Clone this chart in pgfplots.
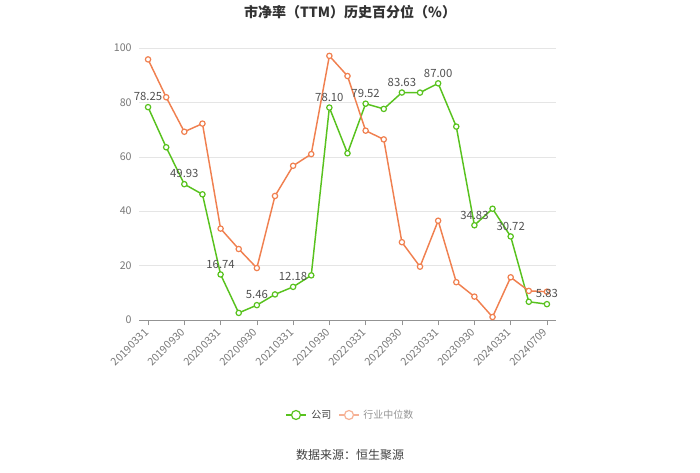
\documentclass[border=0pt]{standalone}
\usepackage{fontspec}
\setmainfont{Noto Sans CJK SC}
\usepackage{pgfplots}
\pgfplotsset{compat=1.18}
\definecolor{gs}{RGB}{88,194,30}
\definecolor{os}{RGB}{240,128,80}
\definecolor{osl}{RGB}{246,178,150}
\definecolor{tk}{RGB}{120,120,120}
\definecolor{lab}{RGB}{80,80,80}
\begin{document}
\begin{tikzpicture}[x=0.75pt,y=0.75pt]
\path (0,0) rectangle (700,473);
\begin{axis}[
  at={(139pt*0.75,153pt*0.75)}, anchor=south west,
  scale only axis, width=312.75pt, height=204pt,
  xmin=-0.5, xmax=22.5, ymin=0, ymax=100,
  ytick={0,20,40,60,80,100},
  xtick={0,2,...,22},
  xticklabels={20190331,20190930,20200331,20200930,20210331,20210930,20220331,20220930,20230331,20230930,20240331,20240709},
  axis y line*=left, axis x line*=bottom,
  axis line style={draw=tk!80, thin, -},
  y axis line style={draw=none},
  ymajorgrids, grid style={draw=black!10, thin},
  xtick style={draw=tk!80, thin}, ytick style={draw=none},
  major tick length=4pt, xtick align=outside,
  tick label style={font=\fontsize{8}{9}\selectfont, color=tk},
  xticklabel style={rotate=45, anchor=east, yshift=-2pt},
  yticklabel style={xshift=-2pt},
  /pgf/number format/assume math mode=true,
  clip=false,
]
\addplot[gs, line width=1.1pt, mark=*, mark size=2pt, mark options={fill=white, line width=0.9pt}] coordinates {
(0,78.25)(1,63.5)(2,49.93)(3,46.2)(4,16.74)(5,2.6)(6,5.46)(7,9.4)(8,12.18)(9,16.4)(10,78.10)(11,61.3)
(12,79.52)(13,77.6)(14,83.63)(15,83.6)(16,87.00)(17,71.1)(18,34.83)(19,40.9)(20,30.72)(21,6.7)(22,5.83)
};
\addplot[os, line width=1.1pt, mark=*, mark size=2pt, mark options={fill=white, line width=0.9pt}] coordinates {
(0,95.8)(1,81.9)(2,69.2)(3,72.2)(4,33.6)(5,26.1)(6,19.1)(7,45.6)(8,56.7)(9,61.0)(10,97.1)(11,89.7)
(12,69.6)(13,66.4)(14,28.6)(15,19.6)(16,36.5)(17,13.9)(18,8.6)(19,1.1)(20,15.7)(21,10.7)(22,10.4)
};
\addplot[draw=none, mark=none, nodes near coords, point meta=explicit symbolic,
  every node near coord/.append style={font=\fontsize{8.5}{9}\selectfont, color=lab, anchor=south, yshift=1pt}]
coordinates {
(0,78.25)[78.25](2,49.93)[49.93](4,16.74)[16.74](6,5.46)[5.46](8,12.18)[12.18](10,78.10)[78.10]
(12,79.52)[79.52](14,83.63)[83.63](16,87.00)[87.00](18,34.83)[34.83](20,30.72)[30.72](22,5.83)[5.83]
};
\end{axis}
% title
\node[font=\bfseries\fontsize{10.5}{12}\selectfont, color=black!80] at (350,461) {市净率（TTM）历史百分位（\%）};
% legend
\draw[gs, line width=1.1pt] (286,58) -- (306,58);
\draw[gs, line width=0.9pt, fill=white] (296,58) circle (4.5);
\node[anchor=west, font=\fontsize{7.5}{9}\selectfont, color=black!75, inner sep=0pt] at (311,58) {公司};
\draw[osl, line width=1.1pt] (339,58) -- (359,58);
\draw[osl, line width=0.9pt, fill=white] (349,58) circle (4.5);
\node[anchor=west, font=\fontsize{7.5}{9}\selectfont, color=tk!80, inner sep=0pt] at (363,58) {行业中位数};
% source
\node[font=\fontsize{9}{10}\selectfont, color=black!75] at (350,18) {数据来源：恒生聚源};
\end{tikzpicture}
\end{document}
